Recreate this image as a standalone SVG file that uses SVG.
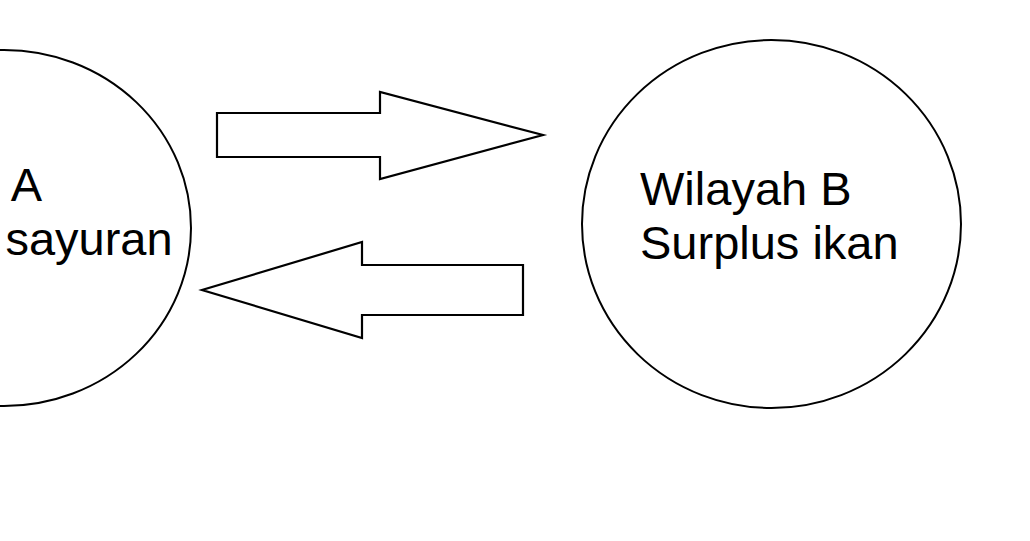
<svg xmlns="http://www.w3.org/2000/svg" width="1030" height="541" viewBox="0 0 1030 541">
<style>
.shape{fill:none;stroke:#000;stroke-width:2}
.arrow{fill:#fff;stroke:#000;stroke-width:2.2;stroke-linejoin:miter}
.lbl{font-family:"Liberation Sans",Arial,sans-serif;font-size:47px;fill:#000}
</style>
<rect width="1030" height="541" fill="#fff"/>
<g id="wilayah-a">
<ellipse class="shape" cx="4" cy="228" rx="187" ry="178"/>
<text class="lbl" x="-167" y="201">Wilayah A</text>
<text class="lbl" x="-167" y="254.5">Surplus sayuran</text>
</g>
<g id="wilayah-b">
<ellipse class="shape" cx="771.5" cy="224" rx="189.5" ry="184"/>
<text class="lbl" x="640" y="204.5">Wilayah B</text>
<text class="lbl" x="640" y="258.5">Surplus ikan</text>
</g>
<g id="connectors">
<polygon class="arrow" points="217,113 380,113 380,92 543,135 380,179 380,157 217,157"/>
<polygon class="arrow" points="523,265 362,265 362,242 202,290 362,338 362,315 523,315"/>
</g>
</svg>
